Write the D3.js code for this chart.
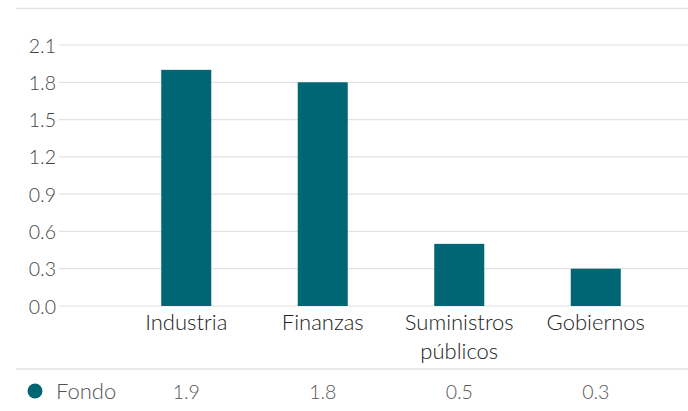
<!DOCTYPE html>
<html>
<head>
<meta charset="utf-8">
<script src="https://cdn.jsdelivr.net/npm/d3@7"></script>
<style>
  body { margin: 0; background: #fff; }
  svg text { font-family: "Source Sans Pro", Lato, "Noto Sans", sans-serif; }
</style>
</head>
<body>
<svg id="chart" width="688" height="411"></svg>
<script>
// categories and values
const categories = ['Industria', 'Finanzas', 'Suministros públicos', 'Gobiernos'];
const seriesName = 'Fondo';
const fondo = [1.9, 1.8, 0.5, 0.3];
const yTicks = [0, 0.3, 0.6, 0.9, 1.2, 1.5, 1.8, 2.1];

const color = '#006673';
const svg = d3.select('#chart');

// plot area
const plotTop = 45, plotBottom = 306;
const gridLeft = 59, plotRight = 688;

let xScale = d3.scaleBand()
    .domain(categories)
    .range([118, 664]);

let yScale = d3.scaleLinear()
    .domain([0, 2.1])
    .range([plotBottom, plotTop]);

// top rule
svg.append('line')
    .attr('x1', 16).attr('x2', plotRight)
    .attr('y1', 8.5).attr('y2', 8.5)
    .attr('stroke', '#e2e2e2').attr('stroke-width', 1.5);

// gridlines
svg.append('g')
    .selectAll('line')
    .data(yTicks)
    .enter()
    .append('line')
    .attr('x1', gridLeft).attr('x2', plotRight)
    .attr('y1', d => yScale(d)).attr('y2', d => yScale(d))
    .attr('stroke', '#e2e2e2').attr('stroke-width', 1.2);

// y axis labels
let yAxis = d3.axisLeft(yScale)
    .tickValues(yTicks)
    .tickFormat(d3.format('.1f'))
    .tickSize(0)
    .tickPadding(0);

let yg = svg.append('g')
    .attr('transform', 'translate(56,0)')
    .call(yAxis);
yg.select('.domain').remove();
yg.selectAll('text')
    .attr('font-size', '19.5px')
    .attr('font-weight', 300)
    .attr('fill', '#444')
    .attr('dy', '0.36em');

// bars
const barW = 50;
svg.selectAll('rect.bar')
    .data(fondo)
    .enter()
    .append('rect')
    .attr('class', 'bar')
    .attr('x', (d, i) => xScale(categories[i]) + xScale.bandwidth() / 2 - barW / 2)
    .attr('y', d => yScale(d))
    .attr('width', barW)
    .attr('height', d => yScale(0) - yScale(d))
    .attr('fill', color);

// x axis labels (wrapped)
let xAxis = d3.axisBottom(xScale).tickSize(0).tickPadding(0);
let xg = svg.append('g')
    .attr('transform', `translate(0, ${plotBottom})`)
    .call(xAxis);
xg.select('.domain').remove();
xg.selectAll('.tick text').each(function(d) {
    const t = d3.select(this);
    const words = d.split(' ');
    t.text(null)
        .attr('font-size', '22px')
        .attr('font-weight', 300)
        .attr('fill', '#222')
        .attr('y', 24)
        .attr('dy', 0);
    words.forEach((w, i) => {
        t.append('tspan')
            .attr('x', 0)
            .attr('dy', i === 0 ? 0 : 29)
            .text(w);
    });
});

// table rule
svg.append('line')
    .attr('x1', 16).attr('x2', plotRight)
    .attr('y1', 369).attr('y2', 369)
    .attr('stroke', '#e2e2e2').attr('stroke-width', 1.5);

// legend row
svg.append('circle')
    .attr('cx', 35).attr('cy', 391)
    .attr('r', 7.5)
    .attr('fill', color);
svg.append('text')
    .attr('x', 56).attr('y', 399)
    .attr('font-size', '22px')
    .attr('font-weight', 300)
    .attr('fill', '#555')
    .text(seriesName);

svg.selectAll('text.val')
    .data(fondo)
    .enter()
    .append('text')
    .attr('class', 'val')
    .attr('x', (d, i) => xScale(categories[i]) + xScale.bandwidth() / 2)
    .attr('y', 399)
    .attr('text-anchor', 'middle')
    .attr('font-size', '19.5px')
    .attr('font-weight', 300)
    .attr('fill', '#555')
    .text(d => d3.format('.1f')(d));
</script>
</body>
</html>
